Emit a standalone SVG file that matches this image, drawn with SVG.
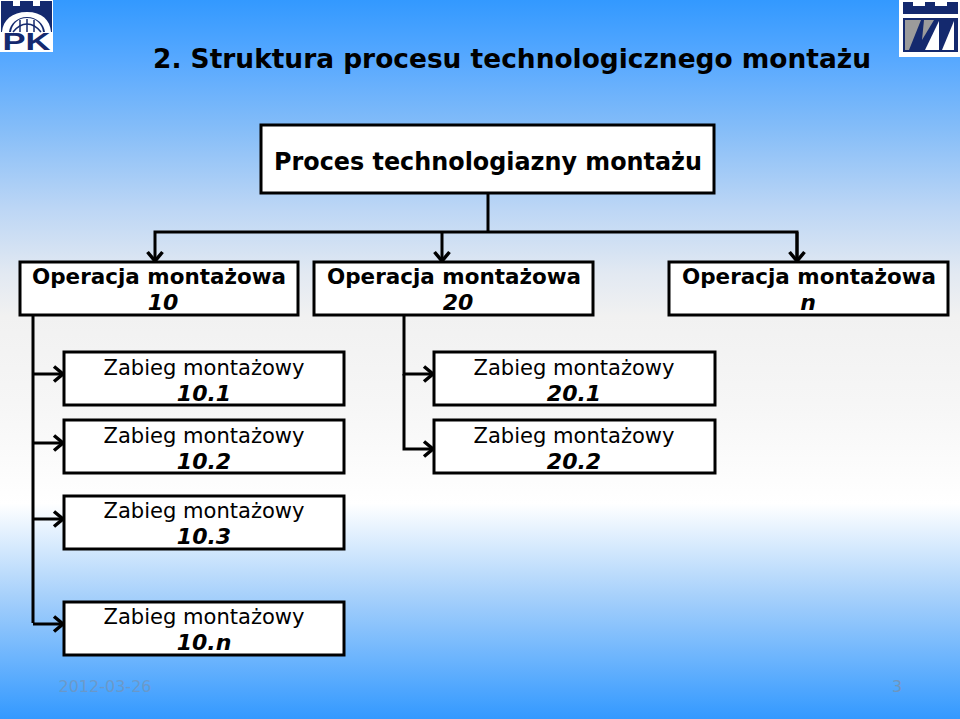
<svg xmlns="http://www.w3.org/2000/svg" width="960" height="719" viewBox="0 0 960 719">
<style>
.box{fill:#fff;stroke:#000;stroke-width:3}
.t{font-family:"DejaVu Sans",Verdana,sans-serif;text-anchor:middle;fill:#000}
.b{font-weight:bold;font-size:22px}
.n{font-size:22px}
.i{font-weight:bold;font-style:italic;font-size:22px}
.c{fill:none;stroke:#000;stroke-width:3;marker-end:url(#a)}
.l{fill:none;stroke:#000;stroke-width:3}
</style>
<defs>
<linearGradient id="bg" x1="0" y1="0" x2="0" y2="1">
<stop offset="0" stop-color="#3399ff"/>
<stop offset=".085" stop-color="#58a9ff"/>
<stop offset=".18" stop-color="#85bdf8"/>
<stop offset=".29" stop-color="#bcd6f5"/>
<stop offset=".38" stop-color="#e2e9f2"/>
<stop offset=".44" stop-color="#f1f1f1"/>
<stop offset=".56" stop-color="#f6f6f6"/>
<stop offset=".7" stop-color="#ffffff"/>
<stop offset=".83" stop-color="#a6d0fb"/>
<stop offset="1" stop-color="#3399ff"/>
</linearGradient>
<marker id="a" markerUnits="userSpaceOnUse" markerWidth="16" markerHeight="20" refX="13" refY="10" orient="auto">
<path d="M3 2.500L12 10L3 17.500" fill="none" stroke="#000" stroke-width="3.500"/>
</marker>
</defs>
<rect width="960" height="719" fill="url(#bg)"/>
<g id="logo-left">
<rect x="0" y="0" width="53" height="52" fill="#fff"/>
<path d="M1 1H13V6H20V1H33V6H40V1H52V32H1Z" fill="#14296e"/>
<path d="M2 32C3 20 12 12 27 12C42 12 50 20 51 32H45C44 24 37 17 27 17C17 17 10 24 9 32Z" fill="#fff"/>
<path d="M11 32C12 24 18 18 27 18C36 18 42 24 43 32Z" fill="#fff"/>
<path d="M13 32C17 27 21 24 27 24C33 24 37 27 41 32" fill="none" stroke="#14296e" stroke-width="1.500"/>
<path d="M20 20V32M27 19V32M34 20V32" stroke="#14296e" stroke-width="1.500"/>
<text x="26.500" y="50" text-anchor="middle" font-family="Liberation Sans,sans-serif" font-weight="bold" font-size="23" fill="#14296e" textLength="48" lengthAdjust="spacingAndGlyphs">PK</text>
</g>
<g id="logo-right">
<rect x="899" y="0" width="61" height="57" fill="#fff"/>
<path d="M903 2H913V6H925V2H935V6H947V2H958V14H903Z" fill="#14296e"/>
<rect x="903" y="18" width="55" height="34" fill="#14296e"/>
<path d="M905 20H921L909 50H905Z" fill="#9b9b9b"/>
<path d="M924 20H934L922 40Z" fill="#9b9b9b"/>
<path d="M939 21V50H925Z" fill="#fff"/>
<path d="M954 21V50H942Z" fill="#fff"/>
</g>
<text id="title" class="t" x="512" y="68" font-weight="bold" font-size="26.500" textLength="718" lengthAdjust="spacingAndGlyphs">2. Struktura procesu technologicznego montażu</text>
<g id="connectors">
<path class="l" d="M488 194V232"/>
<path class="c" d="M797 262V232H155V262"/>
<path class="c" d="M797 232V262"/>
<path class="c" d="M442 232V262"/>
<path class="l" d="M33 315V623"/>
<path class="c" d="M33 374H64"/>
<path class="c" d="M33 443H64"/>
<path class="c" d="M33 519H64"/>
<path class="c" d="M33 624H64"/>
<path class="c" d="M404 315V374H434"/>
<path class="c" d="M404 374V449H434"/>
</g>
<g id="node-proces"><rect class="box" x="261" y="125" width="453" height="68"/><text class="t" x="488" y="170" font-weight="bold" font-size="24" textLength="428" lengthAdjust="spacingAndGlyphs">Proces technologiazny montażu</text></g>
<g id="node-op10"><rect class="box" x="20" y="262" width="278" height="53"/><text class="t b" x="159" y="284" textLength="254" lengthAdjust="spacingAndGlyphs">Operacja montażowa</text><text class="t i" x="163" y="310">10</text></g>
<g id="node-op20"><rect class="box" x="314" y="262" width="279" height="53"/><text class="t b" x="454" y="284" textLength="254" lengthAdjust="spacingAndGlyphs">Operacja montażowa</text><text class="t i" x="458" y="310">20</text></g>
<g id="node-opn"><rect class="box" x="669" y="262" width="279" height="53"/><text class="t b" x="809" y="284" textLength="254" lengthAdjust="spacingAndGlyphs">Operacja montażowa</text><text class="t i" x="808" y="310">n</text></g>
<g id="node-z101"><rect class="box" x="64" y="352" width="280" height="53"/><text class="t n" x="204" y="375" textLength="201" lengthAdjust="spacingAndGlyphs">Zabieg montażowy</text><text class="t i" x="204" y="401">10.1</text></g>
<g id="node-z102"><rect class="box" x="64" y="420" width="280" height="53"/><text class="t n" x="204" y="443" textLength="201" lengthAdjust="spacingAndGlyphs">Zabieg montażowy</text><text class="t i" x="204" y="469">10.2</text></g>
<g id="node-z103"><rect class="box" x="64" y="496" width="280" height="53"/><text class="t n" x="204" y="518" textLength="201" lengthAdjust="spacingAndGlyphs">Zabieg montażowy</text><text class="t i" x="204" y="544">10.3</text></g>
<g id="node-z10n"><rect class="box" x="64" y="602" width="280" height="53"/><text class="t n" x="204" y="624" textLength="201" lengthAdjust="spacingAndGlyphs">Zabieg montażowy</text><text class="t i" x="204" y="650">10.n</text></g>
<g id="node-z201"><rect class="box" x="434" y="352" width="281" height="53"/><text class="t n" x="574" y="375" textLength="201" lengthAdjust="spacingAndGlyphs">Zabieg montażowy</text><text class="t i" x="574" y="401">20.1</text></g>
<g id="node-z202"><rect class="box" x="434" y="420" width="281" height="53"/><text class="t n" x="574" y="443" textLength="201" lengthAdjust="spacingAndGlyphs">Zabieg montażowy</text><text class="t i" x="574" y="469">20.2</text></g>
<text x="105" y="692" text-anchor="middle" font-family="DejaVu Sans,sans-serif" font-size="16" fill="#7f8ea0" opacity=".55">2012-03-26</text>
<text x="897" y="692" text-anchor="middle" font-family="DejaVu Sans,sans-serif" font-size="16" fill="#7f8ea0" opacity=".7">3</text>
</svg>
